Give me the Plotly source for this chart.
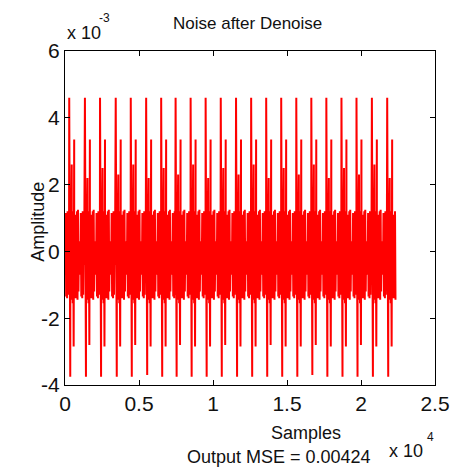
import plotly.graph_objects as go

# ---------------- data (amplitudes in units of 1e-3) ----------------
spike_starts = [285, 1346, 2367, 3428, 4443, 5484, 6498, 7473, 8488, 9502, 10524,
                11557, 12578, 13594, 14608, 15628, 16643, 17658, 18680, 19695, 20735, 21770]
tall_pos = [4.6, 4.6, 4.6, 4.6, 4.6, 4.6, 4.6, 4.6, 4.6, 4.6, 4.6,
            4.6, 4.6, 4.6, 4.6, 4.6, 4.6, 4.6, 4.6, 4.6, 4.6, 4.6]
deep_neg = [-3.75, -3.75, -3.75, -3.75, -3.75, -3.7, -3.75, -3.75, -3.75, -3.75, -3.75,
            -3.75, -3.75, -3.75, -3.75, -3.75, -3.7, -3.75, -3.75, -3.75, -3.75, -3.75]
second_pos = [3.35, 3.35, 3.35, 3.35, 3.35, 3.35, 3.35, 3.35, 3.35, 3.35, 3.35,
              3.35, 3.35, 3.35, 3.35, 3.35, 3.35, 3.35, 3.35, 3.35, 3.35, 3.35]
second_neg = [-2.85, -2.8, -2.85, -2.85, -2.8, -2.85, -2.85, -2.8, -2.85, -2.85, -2.8,
              -2.85, -2.85, -2.8, -2.85, -2.85, -2.8, -2.85, -2.85, -2.8, -2.85, -2.85]
small_pos = [2.6, 2.2, 2.5, 2.3, 2.6, 2.2, 2.5, 2.3, 2.6, 2.2, 2.5,
             2.3, 2.6, 2.2, 2.5, 2.3, 2.6, 2.2, 2.5, 2.3, 2.6, 2.2]
# spike offsets within a cycle (samples after the tall spike)
spike_offsets = [0, 70, 170, 300, 335]
# noise band samples within one cycle (alternating upper/lower excursions)
band_offsets = [16 + 32 * i for i in range(32)]
band_values = [1.25, -1.5, 1.2, -1.4, 0.9, -1.45, 1.2, -1.55, 0.3, -0.2, 0.25, -0.6,
               1.1, -1.4, 0.5, -1.35, 1.2, -1.45, 1.25, -1.2, 0.2, -0.3, 0.3, -0.7,
               1.15, -1.35, 0.6, -1.4, 1.2, -1.3, 0.3, -0.4]
cycle_len = 1023
end_sample = 22360

x_ticks = [0, 5000, 10000, 15000, 20000, 25000]
x_tick_text = ["0", "0.5", "1", "1.5", "2", "2.5"]
y_ticks = [-4, -2, 0, 2, 4, 6]
y_tick_text = ["-4", "-2", "0", "2", "4", "6"]

# ---------------- build signal from the read values ----------------
xs, ys = [], []
starts = [spike_starts[0] - cycle_len] + spike_starts
for k, s in enumerate(starts):
    limit = starts[k + 1] if k + 1 < len(starts) else end_sample
    pts = [(s + o, v) for o, v in zip(band_offsets, band_values)]
    if k > 0:
        j = k - 1
        vals = [tall_pos[j], deep_neg[j], small_pos[j], second_neg[j], second_pos[j]]
        pts += [(s + o, v) for o, v in zip(spike_offsets, vals)]
    pts.sort()
    for px, py in pts:
        if 0 <= px < limit:
            xs.append(px)
            ys.append(py)

FONT = "Liberation Sans, Arial, sans-serif"

fig = go.Figure()
fig.add_trace(go.Scatter(x=xs, y=ys, mode="lines",
                         line=dict(color="#ff0000", width=2), showlegend=False,
                         hoverinfo="skip"))

axis_common = dict(showgrid=False, zeroline=False, showline=True, linecolor="black",
                   linewidth=1, mirror="ticks", ticks="inside", ticklen=5,
                   tickcolor="black", tickfont=dict(family=FONT, size=21, color="#111"))
fig.update_xaxes(range=[0, 25000], tickvals=x_ticks, ticktext=x_tick_text, **axis_common)
fig.update_yaxes(range=[-4, 6], tickvals=y_ticks, ticktext=y_tick_text, **axis_common)

ann_font = dict(family=FONT, color="#111")
fig.update_layout(
    width=462, height=468,
    margin=dict(l=65, r=20, t=51, b=83),
    paper_bgcolor="white", plot_bgcolor="white",
    annotations=[
        dict(text="Noise after Denoise", x=251, y=24, showarrow=False,
             font=dict(size=17, **ann_font)),
        dict(text="x 10", x=65, y=33, showarrow=False, xanchor="left",
             font=dict(size=18, **ann_font)),
        dict(text="-3", x=98, y=18, showarrow=False, xanchor="left",
             font=dict(size=12, **ann_font)),
        dict(text="Amplitude", x=25, y=222, showarrow=False, textangle=-90,
             font=dict(size=18, **ann_font)),
        dict(text="Samples", x=348, y=433, showarrow=False,
             font=dict(size=18, **ann_font)),
        dict(text="x 10", x=432, y=451, showarrow=False, xanchor="right",
             font=dict(size=18, **ann_font)),
        dict(text="4", x=432, y=437, showarrow=False, xanchor="left",
             font=dict(size=12, **ann_font)),
        dict(text="Output MSE = 0.00424", x=187, y=457, showarrow=False,
             font=dict(size=18, **ann_font)),
    ],
)
# place annotations in pixel coordinates of the page
W, H = 462, 468
L, R, T, B = 65, 20, 51, 83
pw, ph = W - L - R, H - T - B
for a in fig.layout.annotations:
    a.xref = "paper"
    a.yref = "paper"
    a.x = (a.x - L) / pw
    a.y = 1 - (a.y - T) / ph
    a.yanchor = "middle"

fig.write_html("out.html")
